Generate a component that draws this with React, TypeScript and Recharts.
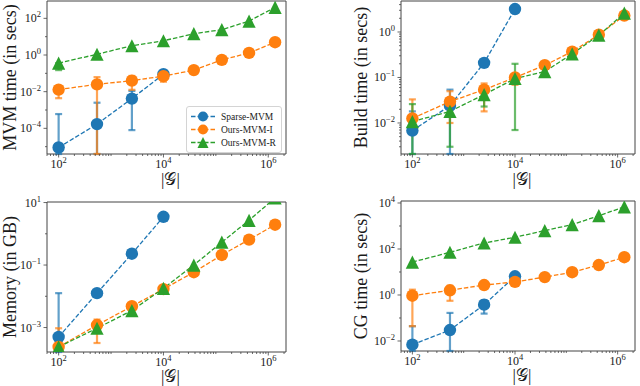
import React from "react";
import { LineChart, Line, XAxis, YAxis, ErrorBar, ReferenceArea, Legend } from "recharts";

const FONT = '"Liberation Serif", "DejaVu Serif", serif';
const INK = "#1a1a1a";
const SPINE = "#444";

// |G|, number of grid points
const gridSizes = [100, 540, 2500, 10000, 38000, 130000, 430000, 1350000];

const seriesNames = ["Sparse-MVM", "Ours-MVM-I", "Ours-MVM-R"];
const seriesColors = ["#1f77b4", "#ff7f0e", "#2ca02c"];
const seriesShapes = ["circle", "circle", "triangle"];

// error bounds: null = no bar, 0 = runs off the bottom of the axis

// MVM time (in secs)
const mvmSparse = [9e-6, 1.7e-4, 4.2e-3, 0.09];
const mvmSparseLo = [0, 0, 8e-5, null];
const mvmSparseHi = [6e-4, 2.5e-3, 0.011, null];
const mvmOursI = [0.013, 0.025, 0.04, 0.07, 0.15, 0.54, 1.3, 5];
const mvmOursILo = [0.0044, 0, 0.0126, 0.035];
const mvmOursIHi = [0.02, 0.062, 0.072, null];
const mvmOursR = [0.36, 1.1, 3.2, 6, 14.5, 24, 71, 400];
const mvmOursRLo = [0.15];
const mvmOursRHi = [null];

// Build time (in secs)
const buildSparse = [0.0068, 0.024, 0.21, 3.2];
const buildSparseLo = [0, 0];
const buildSparseHi = [0.018, 0.054];
const buildOursI = [0.0126, 0.0295, 0.054, 0.1, 0.186, 0.37, 0.87, 2.3];
const buildOursILo = [0.0095, 0.01, 0.018, 0.069];
const buildOursIHi = [0.033, 0.05, 0.074, null];
const buildOursR = [0.0107, 0.018, 0.042, 0.095, 0.135, 0.33, 0.85, 2.6];
const buildOursRLo = [0, 0.003, 0.023, 0.007];
const buildOursRHi = [0.026, 0.03, 0.065, 0.2];

// Memory (in GB)
const memSparse = [5e-4, 0.0126, 0.23, 3.5];
const memSparseLo = [0];
const memSparseHi = [0.0126];
const memOursI = [2.4e-4, 1.2e-3, 4.8e-3, 0.017, 0.059, 0.21, 0.65, 1.95];
const memOursILo = [null, 3.2e-4];
const memOursIHi = [9.5e-4, 1.8e-3];
const memOursR = [2.4e-4, 9.5e-4, 3.5e-3, 0.018, 0.1, 0.54, 2.7, 14];

// CG time (in secs)
const cgSparse = [0.0069, 0.03, 0.38, 6.5];
const cgSparseLo = [0, 0, 0.155];
const cgSparseHi = [0.044, 0.166, 0.59];
const cgOursI = [0.93, 1.6, 2.7, 3.7, 6, 9.8, 20, 44];
const cgOursILo = [0.044, 0.56];
const cgOursIHi = [1.7, 2.5];
const cgOursR = [27, 72, 182, 324, 630, 1150, 2800, 6800];

// labelled ticks
const xMajorTicks = [1e2, 1e4, 1e6];
const mvmMajorTicks = [1e-4, 1e-2, 1, 1e2];
const buildMajorTicks = [1e-2, 1e-1, 1];
const memMajorTicks = [1e-3, 1e-1, 10];
const cgMajorTicks = [1e-2, 1, 1e2, 1e4];

const xDomain = [60, 2.18e6];

type Num = number | null | undefined;
type Series = { ys: number[]; lo?: Num[]; hi?: Num[] };

function rows(s: Series, yDomain: number[]) {
  const lo = s.lo || [];
  const hi = s.hi || [];
  return s.ys.map((y, i) => {
    const l = lo[i];
    const h = hi[i];
    const hasErr = l != null || h != null;
    const low = l != null ? Math.max(l, yDomain[0]) : y;
    const high = h != null ? Math.min(h, yDomain[1]) : y;
    return { x: gridSizes[i], y, err: hasErr ? [y - low, high - y] : undefined };
  });
}

const same = (a: number, b: number) => Math.abs(a - b) / b < 1e-9;

function withMinor(lo: number, hi: number, majors: number[], subs: boolean) {
  const out = [...majors];
  const mults = subs ? [1, 2, 3, 4, 5, 6, 7, 8, 9] : [1];
  for (let e = Math.floor(Math.log10(lo)); e <= Math.ceil(Math.log10(hi)); e++) {
    for (const m of mults) {
      const v = m * 10 ** e;
      if (v >= lo && v <= hi && !majors.some((M) => same(v, M))) out.push(v);
    }
  }
  return out.sort((a, b) => a - b);
}

const expText = (v: number) => {
  const e = Math.round(Math.log10(v));
  return e < 0 ? "\u2212" + Math.abs(e) : String(e);
};

const xTick = (majors: number[]) => (p: any) => {
  const v = p.payload.value;
  const major = majors.some((m) => same(v, m));
  return (
    <g>
      <line x1={p.x} x2={p.x} y1={p.y} y2={p.y + (major ? 3.5 : 2)} stroke={SPINE} strokeWidth={0.8} />
      {major && (
        <text x={p.x} y={p.y + 14} textAnchor="middle" fontFamily={FONT} fontSize={12} fill={INK}>
          10
          <tspan dy={-5} fontSize={8.5}>
            {expText(v)}
          </tspan>
        </text>
      )}
    </g>
  );
};

const yTick = (majors: number[]) => (p: any) => {
  const v = p.payload.value;
  const major = majors.some((m) => same(v, m));
  return (
    <g>
      <line x1={p.x} x2={p.x - (major ? 3.5 : 2)} y1={p.y} y2={p.y} stroke={SPINE} strokeWidth={0.8} />
      {major && (
        <text x={p.x - 6} y={p.y + 4} textAnchor="end" fontFamily={FONT} fontSize={12} fill={INK}>
          10
          <tspan dy={-5} fontSize={8.5}>
            {expText(v)}
          </tspan>
        </text>
      )}
    </g>
  );
};

const yTitle = (text: string, cx: number, cy: number) => () => (
  <text
    x={cx}
    y={cy}
    transform={`rotate(-90 ${cx} ${cy})`}
    textAnchor="middle"
    dominantBaseline="central"
    fontFamily={FONT}
    fontSize={18}
    fill={INK}
  >
    {text}
  </text>
);

const xTitle = (cx: number, y: number) => () => (
  <text x={cx} y={y} textAnchor="middle" fontFamily={FONT} fontSize={17} fill={INK}>
    |𝒢|
  </text>
);

function Marker({ shape, color, cx, cy, s }: { shape: string; color: string; cx: number; cy: number; s: number }) {
  if (shape === "triangle") {
    return <polygon points={`${cx},${cy - s} ${cx - s},${cy + s} ${cx + s},${cy + s}`} fill={color} />;
  }
  return <circle cx={cx} cy={cy} r={s} fill={color} />;
}

const makeDot = (color: string, shape: string, clipId: string) => (p: any) => {
  if (p.cx == null || p.cy == null || !isFinite(p.cy)) return <g key={p.index} />;
  return (
    <g key={p.index} clipPath={`url(#${clipId})`}>
      <Marker shape={shape} color={color} cx={p.cx} cy={p.cy} s={shape === "triangle" ? 6.6 : 6.2} />
    </g>
  );
};

function LegendBox() {
  return (
    <div
      style={{
        border: "1px solid #d4d4d4",
        borderRadius: 3,
        background: "rgba(255,255,255,0.85)",
        padding: "3px 5px 3px 3px",
        fontFamily: FONT,
        fontSize: 9.5,
        color: INK,
      }}
    >
      {seriesNames.map((name, i) => (
        <div key={name} style={{ display: "flex", alignItems: "center", height: 13 }}>
          <svg width={26} height={13}>
            <line x1={1} x2={25} y1={6.5} y2={6.5} stroke={seriesColors[i]} strokeWidth={1.3} strokeDasharray="4.5 2" />
            <Marker shape={seriesShapes[i]} color={seriesColors[i]} cx={13} cy={6.5} s={seriesShapes[i] === "triangle" ? 5.5 : 5} />
          </svg>
          <span style={{ marginLeft: 5, whiteSpace: "nowrap" }}>{name}</span>
        </div>
      ))}
    </div>
  );
}

type PanelCfg = {
  id: string;
  offX: number;
  offY: number;
  plot: { l: number; r: number; t: number; b: number };
  yDomain: number[];
  yMajors: number[];
  ySubs: boolean;
  title: string;
  titleX: number;
  xTitleDy: number;
  series: Series[];
  legend?: boolean;
};

const panels: PanelCfg[] = [
  {
    id: "mvm",
    offX: 0,
    offY: 0,
    plot: { l: 47, r: 286, t: 1, b: 154 },
    yDomain: [3.98e-6, 883],
    yMajors: mvmMajorTicks,
    ySubs: false,
    title: "MVM time (in secs)",
    titleX: 10,
    xTitleDy: 31,
    series: [
      { ys: mvmSparse, lo: mvmSparseLo, hi: mvmSparseHi },
      { ys: mvmOursI, lo: mvmOursILo, hi: mvmOursIHi },
      { ys: mvmOursR, lo: mvmOursRLo, hi: mvmOursRHi },
    ],
    legend: true,
  },
  {
    id: "build",
    offX: 320,
    offY: 0,
    plot: { l: 401, r: 635, t: 1, b: 154 },
    yDomain: [2.08e-3, 4.8],
    yMajors: buildMajorTicks,
    ySubs: true,
    title: "Build time (in secs)",
    titleX: 41,
    xTitleDy: 31,
    series: [
      { ys: buildSparse, lo: buildSparseLo, hi: buildSparseHi },
      { ys: buildOursI, lo: buildOursILo, hi: buildOursIHi },
      { ys: buildOursR, lo: buildOursRLo, hi: buildOursRHi },
    ],
  },
  {
    id: "mem",
    offX: 0,
    offY: 193,
    plot: { l: 47, r: 286, t: 202, b: 352 },
    yDomain: [1.65e-4, 10.4],
    yMajors: memMajorTicks,
    ySubs: false,
    title: "Memory (in GB)",
    titleX: 10,
    xTitleDy: 30,
    series: [
      { ys: memSparse, lo: memSparseLo, hi: memSparseHi },
      { ys: memOursI, lo: memOursILo, hi: memOursIHi },
      { ys: memOursR },
    ],
  },
  {
    id: "cg",
    offX: 320,
    offY: 193,
    plot: { l: 401, r: 635, t: 201, b: 351 },
    yDomain: [3.67e-3, 12200],
    yMajors: cgMajorTicks,
    ySubs: false,
    title: "CG time (in secs)",
    titleX: 41,
    xTitleDy: 30,
    series: [
      { ys: cgSparse, lo: cgSparseLo, hi: cgSparseHi },
      { ys: cgOursI, lo: cgOursILo, hi: cgOursIHi },
      { ys: cgOursR },
    ],
  },
];

const W = 320;
const H = 193;

function Panel({ cfg }: { cfg: PanelCfg }) {
  const l = cfg.plot.l - cfg.offX;
  const r = cfg.plot.r - cfg.offX;
  const t = cfg.plot.t - cfg.offY;
  const b = cfg.plot.b - cfg.offY;
  const clipId = `plot-clip-${cfg.id}`;
  const xTicks = withMinor(xDomain[0], xDomain[1], xMajorTicks, true);
  const yTicks = withMinor(cfg.yDomain[0], cfg.yDomain[1], cfg.yMajors, cfg.ySubs);
  return (
    <div style={{ position: "absolute", left: cfg.offX, top: cfg.offY, width: W, height: H }}>
      <svg width={0} height={0} style={{ position: "absolute" }}>
        <defs>
          <clipPath id={clipId} clipPathUnits="userSpaceOnUse">
            <rect x={l} y={t} width={r - l} height={b - t} />
          </clipPath>
        </defs>
      </svg>
      <LineChart width={W} height={H} margin={{ top: t, right: W - r, bottom: 0, left: 0 }}>
        <XAxis
          dataKey="x"
          type="number"
          scale="log"
          domain={xDomain}
          allowDataOverflow
          ticks={xTicks}
          interval={0}
          tick={xTick(xMajorTicks)}
          tickLine={false}
          tickSize={0}
          tickMargin={0}
          axisLine={false}
          height={H - b}
          label={xTitle((l + r) / 2 + 4, b + cfg.xTitleDy)}
        />
        <YAxis
          type="number"
          scale="log"
          domain={cfg.yDomain}
          allowDataOverflow
          ticks={yTicks}
          interval={0}
          tick={yTick(cfg.yMajors)}
          tickLine={false}
          tickSize={0}
          tickMargin={0}
          axisLine={false}
          width={l}
          label={yTitle(cfg.title, cfg.titleX, (t + b) / 2)}
        />
        {cfg.series.map((s, i) => (
          <Line
            key={seriesNames[i]}
            data={rows(s, cfg.yDomain)}
            dataKey="y"
            name={seriesNames[i]}
            stroke={seriesColors[i]}
            strokeWidth={1.3}
            strokeDasharray="4.5 2"
            dot={makeDot(seriesColors[i], seriesShapes[i], clipId)}
            activeDot={false}
            isAnimationActive={false}
          >
            <ErrorBar
              dataKey="err"
              direction="y"
              width={3.5}
              strokeWidth={2.2}
              stroke={seriesColors[i]}
              strokeOpacity={0.7}
              isAnimationActive={false}
            />
          </Line>
        ))}
        <ReferenceArea
          x1={xDomain[0]}
          x2={xDomain[1]}
          y1={cfg.yDomain[0]}
          y2={cfg.yDomain[1]}
          fill="none"
          stroke={SPINE}
          strokeWidth={1}
          ifOverflow="visible"
        />
        {cfg.legend && (
          <Legend
            layout="horizontal"
            verticalAlign="middle"
            align="center"
            wrapperStyle={{ left: 186, top: 106, width: "auto" }}
            content={() => <LegendBox />}
          />
        )}
      </LineChart>
    </div>
  );
}

export default function App() {
  return (
    <div style={{ position: "absolute", left: 0, top: 0, width: 640, height: 386, background: "#fff" }}>
      {panels.map((p) => (
        <Panel key={p.id} cfg={p} />
      ))}
    </div>
  );
}
